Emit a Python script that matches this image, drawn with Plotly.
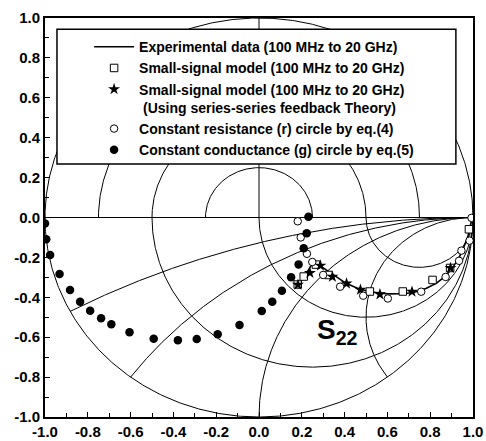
import numpy as np
import plotly.graph_objects as go

# ---------------- data ----------------
exp_x = [0.181, 0.210, 0.244, 0.262, 0.290, 0.329, 0.370, 0.407, 0.460, 0.516, 0.602, 0.660,
         0.719, 0.780, 0.828, 0.870, 0.906, 0.935, 0.952, 0.976, 0.992]
exp_y = [-0.336, -0.300, -0.240, -0.228, -0.245, -0.272, -0.300, -0.330, -0.355, -0.372, -0.383, -0.382,
         -0.377, -0.356, -0.330, -0.295, -0.250, -0.200, -0.163, -0.096, -0.020]

sq_x = [0.181, 0.209, 0.266, 0.325, 0.518, 0.672, 0.811, 0.893, 0.981]
sq_y = [-0.336, -0.296, -0.236, -0.288, -0.371, -0.371, -0.313, -0.253, -0.059]

star_x = [0.182, 0.238, 0.287, 0.343, 0.409, 0.474, 0.565, 0.715, 0.895]
star_y = [-0.337, -0.278, -0.241, -0.297, -0.331, -0.362, -0.385, -0.372, -0.253]

rcirc_x = [0.181, 0.195, 0.224, 0.249, 0.300, 0.379, 0.487, 0.602, 0.758, 0.872, 0.935, 0.946, 0.984, 0.993]
rcirc_y = [-0.019, -0.100, -0.182, -0.223, -0.288, -0.347, -0.392, -0.406, -0.372, -0.298, -0.217, -0.166, -0.116, -0.002]

gcirc_x = [-1.000, -0.994, -0.976, -0.932, -0.883, -0.836, -0.789, -0.738, -0.690, -0.605, -0.492, -0.379,
           -0.291, -0.193, -0.091, 0.013, 0.062, 0.107, 0.150, 0.185, 0.209, 0.223, 0.231]
gcirc_y = [-0.030, -0.109, -0.188, -0.283, -0.363, -0.422, -0.467, -0.505, -0.535, -0.575, -0.608, -0.615,
           -0.609, -0.585, -0.539, -0.469, -0.422, -0.367, -0.300, -0.235, -0.154, -0.079, 0.004]

# Smith-chart grid parameters
gamma_radii_upper = [0.25, 0.5, 0.75]      # constant |Gamma| circles (upper half)
r_values_lower = [1 / 3, 1.0, 3.0]         # constant resistance circles (lower half)
x_values_lower = [-0.25, -0.5, -1.0, -2.0]  # constant reactance arcs (lower half)

tick_vals = [-1.0, -0.8, -0.6, -0.4, -0.2, 0.0, 0.2, 0.4, 0.6, 0.8, 1.0]
tick_text = ["-1.0", "-0.8", "-0.6", "-0.4", "-0.2", "0.0", "0.2", "0.4", "0.6", "0.8", "1.0"]

legend_names = [
    "Experimental data (100 MHz to 20 GHz)",
    "Small-signal model (100 MHz to 20 GHz)",
    "Small-signal model (100 MHz to 20 GHz)<br> (Using series-series feedback Theory)",
    "Constant resistance (r) circle by eq.(4)",
    "Constant conductance (g) circle by eq.(5)",
]

FONT = "Liberation Sans, Arial, sans-serif"

# ---------------- figure ----------------
fig = go.Figure()
grid_line = dict(color="black", width=1)


def add_grid(xs, ys):
    fig.add_trace(go.Scatter(x=xs, y=ys, mode="lines", line=grid_line,
                             hoverinfo="skip", showlegend=False))


# unit circle
t = np.linspace(0, 2 * np.pi, 721)
add_grid(np.cos(t), np.sin(t))
# real axis
add_grid([-1, 1], [0, 0])
# radial line at 90 deg (upper half)
add_grid([0, 0], [0, 1])
# |Gamma| circles, upper half
tu = np.linspace(0, np.pi, 361)
for rad in gamma_radii_upper:
    add_grid(rad * np.cos(tu), rad * np.sin(tu))
# constant r circles, lower half
tl = np.linspace(np.pi, 2 * np.pi, 361)
for r in r_values_lower:
    c, R = r / (1 + r), 1 / (1 + r)
    add_grid(c + R * np.cos(tl), R * np.sin(tl))
# constant x arcs, lower half
rr = np.tan(np.linspace(0, np.pi / 2 - 1e-3, 600))
for xv in x_values_lower:
    z = rr + 1j * xv
    g = (z - 1) / (z + 1)
    add_grid(np.append(g.real, 1.0), np.append(g.imag, 0.0))

# data traces
fig.add_trace(go.Scatter(x=exp_x, y=exp_y, mode="lines", name=legend_names[0],
                         line=dict(color="black", width=1.6)))
fig.add_trace(go.Scatter(x=sq_x, y=sq_y, mode="markers", name=legend_names[1],
                         marker=dict(symbol="square", size=7.5, color="white",
                                     line=dict(color="black", width=1))))
fig.add_trace(go.Scatter(x=star_x, y=star_y, mode="markers", name=legend_names[2],
                         marker=dict(symbol="star", size=9, color="black",
                                     line=dict(color="black", width=0))))
fig.add_trace(go.Scatter(x=rcirc_x, y=rcirc_y, mode="markers", name=legend_names[3],
                         marker=dict(symbol="circle", size=7.5, color="white",
                                     line=dict(color="black", width=1))))
fig.add_trace(go.Scatter(x=gcirc_x, y=gcirc_y, mode="markers", name=legend_names[4],
                         marker=dict(symbol="circle", size=8.5, color="black")))

# legend box
fig.add_shape(type="rect", xref="paper", yref="paper",
              x0=0.028, x1=0.960, y0=0.634, y1=0.972,
              line=dict(color="black", width=1.5), fillcolor="white", layer="above")

fig.add_annotation(x=0.367, y=-0.57, xref="x", yref="y",
                   text="<b>S<sub>22</sub></b>", showarrow=False,
                   font=dict(family=FONT, size=28, color="black"))

axis_common = dict(
    range=[-1, 1], tickvals=tick_vals, ticktext=tick_text,
    ticks="inside", ticklen=5, tickwidth=1.2, tickcolor="black",
    minor=dict(ticks="inside", ticklen=4, dtick=0.1, tickcolor="black", tickwidth=1),
    showgrid=False, zeroline=False, showline=True, linecolor="black", linewidth=1.8,
    mirror=True, automargin=False,
    tickfont=dict(family=FONT, size=15, color="black", weight="bold"),
)
fig.update_xaxes(**axis_common)
fig.update_yaxes(**axis_common)

fig.update_layout(
    template="none",
    width=486, height=441,
    margin=dict(l=45, r=13, t=18, b=24),
    plot_bgcolor="white", paper_bgcolor="white",
    showlegend=True,
    legend=dict(x=0.103, y=0.967, xanchor="left", yanchor="top",
                bgcolor="rgba(0,0,0,0)", borderwidth=0, valign="top",
                itemwidth=40, tracegroupgap=0,
                font=dict(family=FONT, size=14, color="black", weight="bold")),
)

fig.write_html("out.html", config={"displayModeBar": False},
               post_script="document.body.style.margin='0px';")
